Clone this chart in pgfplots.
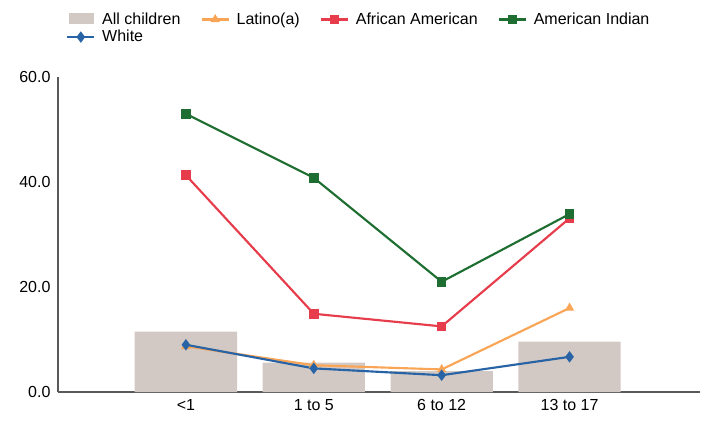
\documentclass[border=0pt]{standalone}
\usepackage{fontspec}
\setmainfont{Liberation Sans}
\usepackage{pgfplots}
\pgfplotsset{compat=1.18}
\definecolor{barc}{RGB}{210,200,196}
\definecolor{latc}{RGB}{250,165,85}
\definecolor{afc}{RGB}{230,60,75}
\definecolor{amc}{RGB}{30,110,50}
\definecolor{whc}{RGB}{40,100,165}
\begin{document}
\begin{tikzpicture}
\path (-43.5pt,-22.5pt) rectangle (490.5pt,294pt);
\begin{axis}[
 at={(0pt,0pt)}, anchor=south west,
 scale only axis, width=481.5pt, height=236.25pt,
 xmin=-1, xmax=4.02, ymin=0, ymax=60,
 axis x line=bottom, axis y line=left,
 axis line style={draw=gray!70!black, -, line width=0.8pt},
 xtick={0,1,2,3}, xticklabels={<1,1 to 5,6 to 12,13 to 17},
 ytick={0,20,40,60},
 yticklabel style={/pgf/number format/.cd, fixed, fixed zerofill, precision=1},
 /pgf/number format/assume math mode=true,
 tick style={draw=none},
 font=\fontsize{12}{14}\selectfont,
 legend columns=4,
 legend cell align=left,
 legend style={at={(0.006,1.222)}, anchor=north west, draw=none, fill=none,
   font=\fontsize{12}{14}\selectfont, column sep=3pt, row sep=-1pt,
   /tikz/every even column/.append style={column sep=13pt}},
 legend image code/.code={\draw[mark repeat=2,mark phase=2] plot coordinates {(0cm,0cm) (0.36cm,0cm) (0.72cm,0cm)};},
 clip=false,
]
\addplot[ybar, bar width=0.8, fill=barc, draw=none, area legend,
  legend image code/.code={\fill[barc] (0.05cm,-0.12cm) rectangle (0.72cm,0.18cm);}] coordinates {(0,11.5) (1,5.6) (2,4.0) (3,9.6)};
\addlegendentry{All children}
\addplot[latc, line width=1.6pt, mark=triangle*, mark size=2.5pt] coordinates {(0,8.7) (1,5.1) (2,4.3) (3,16.0)};
\addlegendentry{Latino(a)}
\addplot[afc, line width=1.6pt, mark=square*, mark size=2.8pt] coordinates {(0,41.3) (1,14.9) (2,12.5) (3,33.1)};
\addlegendentry{African American}
\addplot[amc, line width=1.6pt, mark=square*, mark size=2.8pt] coordinates {(0,53.0) (1,40.8) (2,21.0) (3,33.9)};
\addlegendentry{American Indian}
\addplot[whc, line width=1.6pt, mark=diamond*, mark size=3pt] coordinates {(0,9.0) (1,4.5) (2,3.2) (3,6.7)};
\addlegendentry{White}
\end{axis}
\end{tikzpicture}
\end{document}
